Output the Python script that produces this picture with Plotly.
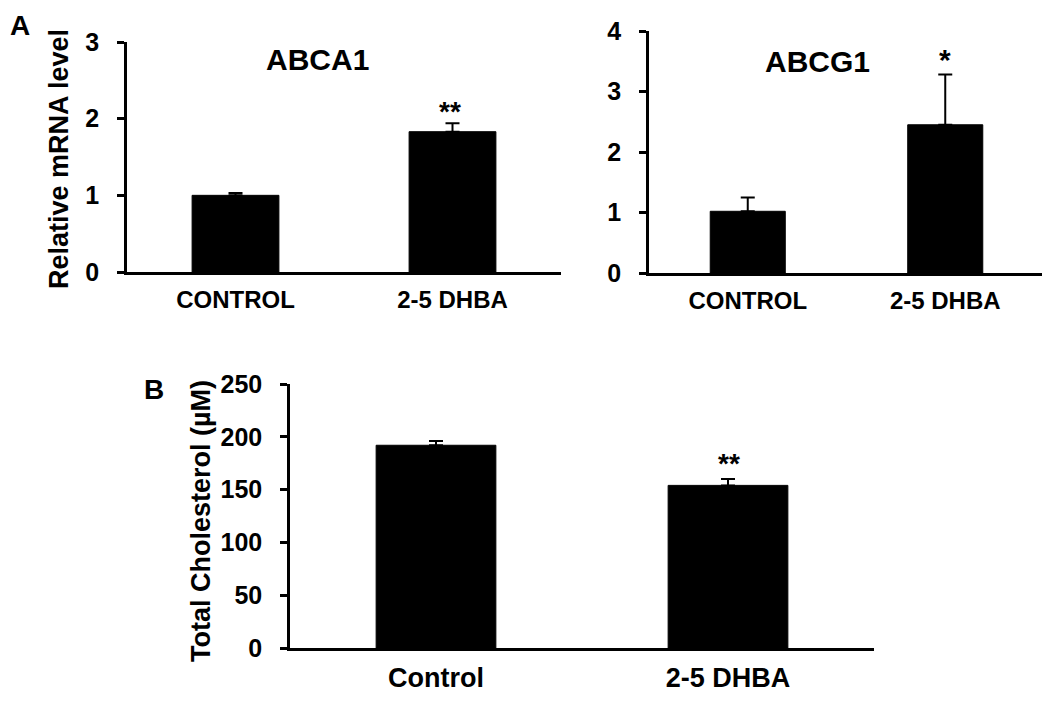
import plotly.graph_objects as go

# ---- data ----
categories_a = ["CONTROL", "2-5 DHBA"]
abca1_values = [1.00, 1.83]
abca1_errors = [0.03, 0.11]
abcg1_values = [1.02, 2.45]
abcg1_errors = [0.23, 0.83]

categories_b = ["Control", "2-5 DHBA"]
chol_values = [192, 154]
chol_errors = [4, 6]

abca1_ticks = [0, 1, 2, 3]
abcg1_ticks = [0, 1, 2, 3, 4]
chol_ticks = [0, 50, 100, 150, 200, 250]

FONT = "Liberation Sans, Arial, sans-serif"
W, H = 1050, 703
DX, DY = -4, -9


def px(x):
    return (x + DX) / W


def py(y):
    return 1 - (y + DY) / H


def bar(cats, vals, errs, xa, ya, width):
    return go.Bar(
        x=cats, y=vals, xaxis=xa, yaxis=ya, width=width,
        marker=dict(color="black", line=dict(color="black", width=1)),
        error_y=dict(type="data", symmetric=False, array=errs,
                     arrayminus=[0] * len(errs), color="black",
                     thickness=2, width=7),
        showlegend=False, hoverinfo="x+y",
    )


fig = go.Figure()
fig.add_trace(bar(categories_a, abca1_values, abca1_errors, "x", "y", 0.40))
fig.add_trace(bar(categories_a, abcg1_values, abcg1_errors, "x2", "y2", 0.38))
fig.add_trace(bar(categories_b, chol_values, chol_errors, "x3", "y3", 0.41))


def xaxis(domain, anchor, size):
    return dict(domain=domain, anchor=anchor, showline=True, linecolor="black",
                linewidth=2.5, ticks="", showgrid=False, zeroline=False,
                tickfont=dict(family=FONT, size=size, color="black", weight="bold"),
                ticklabelstandoff=4, fixedrange=True, automargin=False)


def yaxis(domain, anchor, rng, ticks, size):
    return dict(domain=domain, anchor=anchor, range=rng, tickvals=ticks,
                showline=True, linecolor="black", linewidth=2.5,
                ticks="outside", ticklen=7, tickwidth=2.5, tickcolor="black",
                showgrid=False, zeroline=False, ticklabelstandoff=13,
                tickfont=dict(family=FONT, size=size, color="black", weight="bold"),
                fixedrange=True, automargin=False)


fig.update_layout(
    width=W, height=H,
    margin=dict(l=0, r=0, t=0, b=0, pad=0, autoexpand=False),
    paper_bgcolor="white", plot_bgcolor="white",
    xaxis=xaxis([px(123), px(557)], "y", 24),
    yaxis=yaxis([py(273), py(43)], "x", [0, 3], abca1_ticks, 25),
    xaxis2=xaxis([px(645), px(1040)], "y2", 24),
    yaxis2=yaxis([py(274), py(32)], "x2", [0, 4], abcg1_ticks, 25),
    xaxis3=xaxis([px(286), px(870)], "y3", 27),
    yaxis3=yaxis([py(649), py(385)], "x3", [0, 250], chol_ticks, 25),
)


def note(text, x, y, size, angle=0):
    fig.add_annotation(text=text, x=px(x), y=py(y), xref="paper", yref="paper",
                       showarrow=False, textangle=angle, borderpad=0,
                       font=dict(family=FONT, size=size, color="black", weight="bold"),
                       xanchor="center", yanchor="middle")


note("A", 16, 26, 28)
note("B", 150, 390, 28)
note("ABCA1", 313, 60, 30)
note("ABCG1", 813, 62, 30)
note("Relative mRNA level", 55, 160, 27, -90)
note("Total Cholesterol (µM)", 197, 522, 27, -90)
note("**", 446, 112, 28)
note("*", 941, 60, 30)
note("**", 725, 464, 28)

fig.write_html("out.html")
